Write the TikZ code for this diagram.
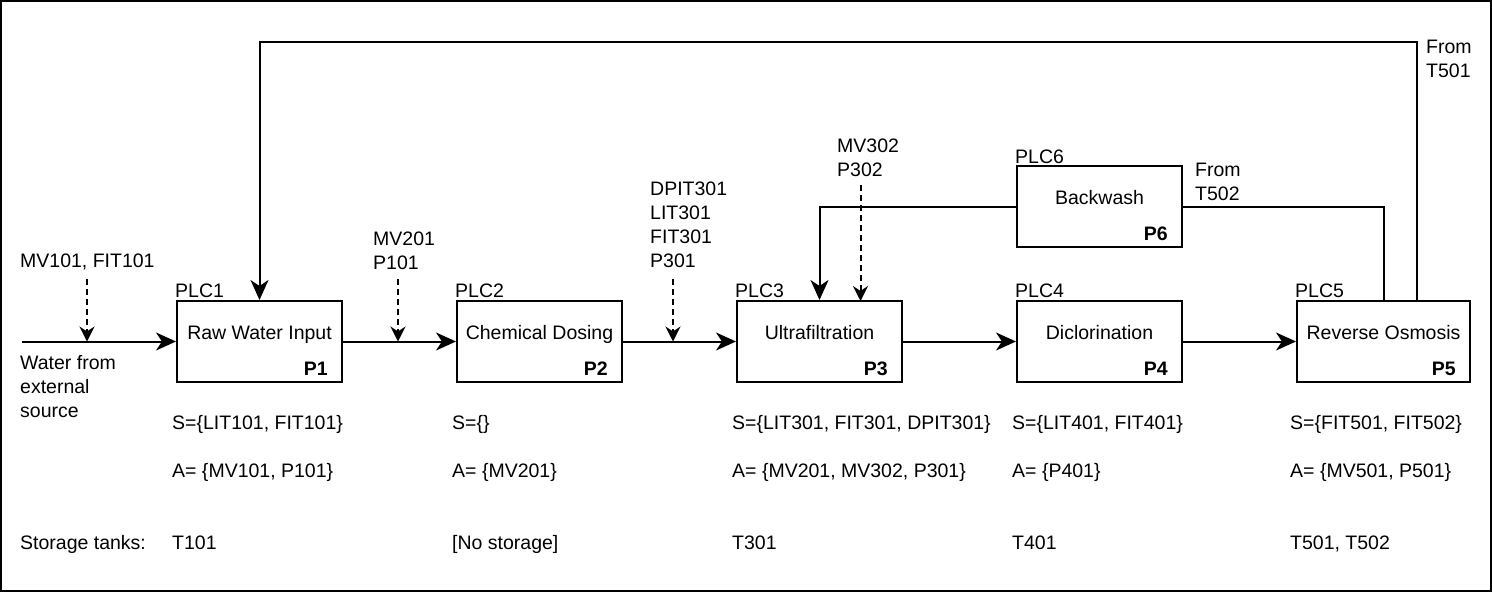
\documentclass[tikz,border=0pt]{standalone}
\usepackage{fontspec}
\setmainfont{Liberation Sans}
\usetikzlibrary{arrows.meta}
\begin{document}
\begin{tikzpicture}[x=1pt,y=-1pt,
  every node/.style={font=\fontsize{19.5}{24}\selectfont},
  proc/.style={draw, line width=2pt, minimum width=165pt, minimum height=81pt, inner sep=0pt},
  txt/.style={anchor=base west, inner sep=0pt, align=left},
  pl/.style={anchor=base east, inner sep=0pt, font=\fontsize{19.5}{24}\selectfont\bfseries},
  ttl/.style={anchor=base, inner sep=0pt},
  flow/.style={line width=2pt, -{Stealth[length=20pt,width=18pt,inset=6pt]}},
  ctrl/.style={line width=2pt, dash pattern=on 6pt off 4pt, -{Stealth[length=15pt,width=15pt,inset=5pt]}},
  pipe/.style={line width=2pt}]
\useasboundingbox (0,0) rectangle (1492,592);
\draw[line width=1.8pt] (1,1) rectangle (1491,591);

% process boxes
\node[proc] (p1) at (259.5,341.5) {};
\node[proc] (p2) at (539.5,341.5) {};
\node[proc] (p3) at (819.5,341.5) {};
\node[proc] (p4) at (1099.5,341.5) {};
\node[proc, minimum width=173pt] (p5) at (1383.5,341.5) {};
\node[proc] (p6) at (1099.5,206.5) {};

% titles
\node[ttl] (t1) at (259.5,339) {Raw Water Input};
\node[ttl] (t2) at (539.5,339) {Chemical Dosing};
\node[ttl] (t3) at (819.5,339) {Ultrafiltration};
\node[ttl] (t4) at (1099.5,339) {Diclorination};
\node[ttl] (t5) at (1383.5,339) {Reverse Osmosis};
\node[ttl] (t6) at (1099.5,204) {Backwash};

% P labels
\node[pl] (l1) at (328,375) {P1};
\node[pl] (l2) at (608,375) {P2};
\node[pl] (l3) at (888,375) {P3};
\node[pl] (l4) at (1168,375) {P4};
\node[pl] (l5) at (1456,375) {P5};
\node[pl] (l6) at (1168,240) {P6};

% PLC labels
\node[txt] (c1) at (175,297) {PLC1};
\node[txt] (c2) at (455,297) {PLC2};
\node[txt] (c3) at (735,297) {PLC3};
\node[txt] (c4) at (1015,297) {PLC4};
\node[txt] (c5) at (1295,297) {PLC5};
\node[txt] (c6) at (1015,163) {PLC6};

% signal labels (anchored at baseline of last line)
\node[txt] (s0) at (20,267) {MV101, FIT101};
\node[txt] (s1) at (373,269) {MV201\\P101};
\node[txt] (s2) at (650,267) {DPIT301\\LIT301\\FIT301\\P301};
\node[txt] (s3) at (837,176) {MV302\\P302};
\node[txt] (f2) at (1195,200) {From\\T502};
\node[txt] (f1) at (1426,77) {From\\T501};
\node[txt] (src) at (20,417) {Water from\\external\\source};

% main flow
\coordinate (in) at (22,341.5);
\draw[flow] (in) -- (p1.west);
\draw[flow] (p1.east) -- (p2.west);
\draw[flow] (p2.east) -- (p3.west);
\draw[flow] (p3.east) -- (p4.west);
\draw[flow] (p4.east) -- (p5.west);

% dashed control arrows
\coordinate (d0a) at (87,279);  \coordinate (d0b) at (87,341.5);
\coordinate (d1a) at (398,279); \coordinate (d1b) at (398,341.5);
\coordinate (d2a) at (673,279); \coordinate (d2b) at (673,341.5);
\coordinate (d3a) at (860.5,185); \coordinate (d3b) at (860.5,301);
\draw[ctrl] (d0a) -- (d0b);
\draw[ctrl] (d1a) -- (d1b);
\draw[ctrl] (d2a) -- (d2b);
\draw[ctrl] (d3a) -- (d3b);

% backwash lines
\draw[flow] (p6.west) -| (p3.north);
\draw[pipe] (p6.east) -| (p5.north);

% top feedback
\coordinate (fb) at (1417,301);
\coordinate (fbtop) at (1417,42);
\draw[flow] (fb) -- (fbtop) -| (p1.north);

% S / A rows
\node[txt] (sa1) at (172,429) {S=\{LIT101, FIT101\}};
\node[txt] (sa2) at (452,429) {S=\{\}};
\node[txt] (sa3) at (732,429) {S=\{LIT301, FIT301, DPIT301\}};
\node[txt] (sa4) at (1012,429) {S=\{LIT401, FIT401\}};
\node[txt] (sa5) at (1290,429) {S=\{FIT501, FIT502\}};
\node[txt] (aa1) at (172,477) {A= \{MV101, P101\}};
\node[txt] (aa2) at (452,477) {A= \{MV201\}};
\node[txt] (aa3) at (732,477) {A= \{MV201, MV302, P301\}};
\node[txt] (aa4) at (1012,477) {A= \{P401\}};
\node[txt] (aa5) at (1290,477) {A= \{MV501, P501\}};

% storage row
\node[txt] (st0) at (20,549) {Storage tanks:};
\node[txt] (st1) at (172,549) {T101};
\node[txt] (st2) at (452,549) {[No storage]};
\node[txt] (st3) at (732,549) {T301};
\node[txt] (st4) at (1012,549) {T401};
\node[txt] (st5) at (1290,549) {T501, T502};
\end{tikzpicture}
\end{document}
